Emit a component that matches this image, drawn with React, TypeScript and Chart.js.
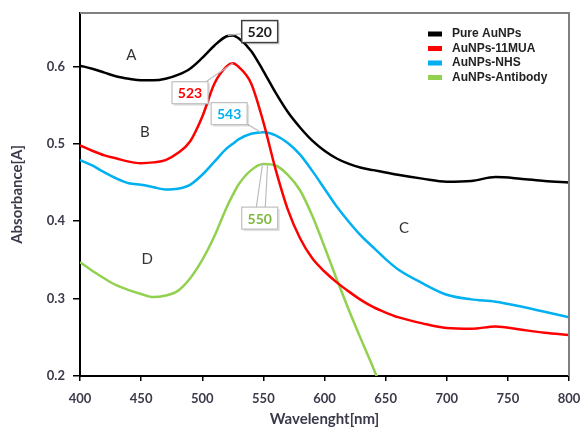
import React, { useEffect, useRef } from "react";
import { Chart, registerables } from "chart.js";

Chart.register(...registerables);

const wavelengths = [400, 410, 420, 430, 440, 450, 460, 470, 480, 490, 500, 510, 520, 525, 530, 540, 550, 560, 570, 580, 590, 600, 610, 620, 630, 640, 650, 660, 680, 700, 720, 740, 760, 780, 800];
const pureAuNPs = [0.601, 0.597, 0.592, 0.587, 0.584, 0.582, 0.582, 0.584, 0.589, 0.597, 0.611, 0.627, 0.639, 0.640, 0.636, 0.620, 0.594, 0.566, 0.541, 0.521, 0.504, 0.491, 0.481, 0.474, 0.469, 0.466, 0.463, 0.460, 0.455, 0.451, 0.452, 0.457, 0.455, 0.452, 0.450];
const auNPs11MUA = [0.498, 0.491, 0.485, 0.481, 0.477, 0.475, 0.476, 0.479, 0.488, 0.503, 0.535, 0.578, 0.600, 0.604, 0.599, 0.578, 0.528, 0.467, 0.415, 0.378, 0.352, 0.335, 0.321, 0.309, 0.298, 0.289, 0.282, 0.276, 0.268, 0.262, 0.261, 0.264, 0.260, 0.256, 0.253];
const auNPsNHS = [0.479, 0.472, 0.463, 0.455, 0.449, 0.447, 0.444, 0.441, 0.442, 0.447, 0.460, 0.477, 0.494, 0.500, 0.506, 0.513, 0.515, 0.511, 0.501, 0.486, 0.465, 0.442, 0.419, 0.399, 0.381, 0.366, 0.351, 0.338, 0.320, 0.305, 0.299, 0.296, 0.290, 0.283, 0.276];
const auNPsAntibody = [0.347, 0.336, 0.326, 0.317, 0.311, 0.306, 0.302, 0.304, 0.310, 0.326, 0.350, 0.381, 0.418, 0.434, 0.448, 0.466, 0.474, 0.472, 0.460, 0.440, 0.407, 0.367, 0.325, 0.285, 0.247, 0.210, 0.170, null, null, null, null, null, null, null, null];

const xTicks = [400, 450, 500, 550, 600, 650, 700, 750, 800];
const yTicks = [0.2, 0.3, 0.4, 0.5, 0.6];

const seriesNames = ["Pure AuNPs", "AuNPs-11MUA", "AuNPs-NHS", "AuNPs-Antibody"];
const seriesColors = ["#000000", "#ff0000", "#00b0f0", "#92d050"];
const seriesValues = [pureAuNPs, auNPs11MUA, auNPsNHS, auNPsAntibody];

const peakLabels = ["520", "523", "543", "550"];
const peakLabelColors = ["#1a1a1a", "#ff0000", "#00b0f0", "#7fb83e"];
const peakAnchorX = [521, 525, 548, 551];
const peakAnchorY = [0.640, 0.604, 0.515, 0.474];
const peakBoxX = [547, 490, 522, 547];
const peakBoxY = [0.645, 0.566, 0.539, 0.404];

const curveLetters = ["A", "B", "C", "D"];
const letterX = [442, 453, 665, 455];
const letterY = [0.614, 0.515, 0.391, 0.351];

const tickColor = "#3a3a4a";

const decorPlugin = {
  id: "decor",
  afterDatasetsDraw(chart: any) {
    const { ctx, chartArea, scales } = chart;
    const xs = scales.x;
    const ys = scales.y;
    ctx.save();
    ctx.strokeStyle = "#808080";
    ctx.lineWidth = 2;
    ctx.beginPath();
    ctx.moveTo(chartArea.left, chartArea.top);
    ctx.lineTo(chartArea.right, chartArea.top);
    ctx.lineTo(chartArea.right, chartArea.bottom);
    ctx.stroke();

    ctx.fillStyle = "#333333";
    ctx.font = "15px Lato";
    ctx.textAlign = "center";
    ctx.textBaseline = "middle";
    curveLetters.forEach((t, i) => {
      ctx.fillText(t, xs.getPixelForValue(letterX[i]), ys.getPixelForValue(letterY[i]));
    });

    peakLabels.forEach((t, i) => {
      const ax = xs.getPixelForValue(peakAnchorX[i]);
      const ay = ys.getPixelForValue(peakAnchorY[i]);
      const bx = xs.getPixelForValue(peakBoxX[i]);
      const by = ys.getPixelForValue(peakBoxY[i]);
      const w = 36;
      const h = 22;
      ctx.strokeStyle = "#bdbdbd";
      ctx.lineWidth = 1.2;
      if (i === 3) {
        ctx.beginPath();
        ctx.moveTo(ax - 2, ay);
        ctx.lineTo(bx - 5, by);
        ctx.moveTo(ax + 3, ay);
        ctx.lineTo(bx + 5, by);
        ctx.stroke();
      } else {
        ctx.beginPath();
        ctx.moveTo(ax, ay);
        ctx.lineTo(bx, by);
        ctx.stroke();
      }
      ctx.fillStyle = "rgba(0,0,0,0.12)";
      ctx.fillRect(bx - w / 2 + 2, by - h / 2 + 2, w, h);
      ctx.fillStyle = "#ffffff";
      ctx.fillRect(bx - w / 2, by - h / 2, w, h);
      ctx.strokeStyle = i === 0 ? "#404040" : "#bfbfbf";
      ctx.lineWidth = i === 0 ? 1.5 : 1.2;
      ctx.strokeRect(bx - w / 2, by - h / 2, w, h);
      ctx.fillStyle = peakLabelColors[i];
      ctx.font = "bold 14px Lato";
      ctx.textAlign = "center";
      ctx.textBaseline = "middle";
      ctx.fillText(t, bx, by + 1);
    });

    const lx = chartArea.right - 141;
    const ly = chartArea.top + 21;
    ctx.font = "bold 12px 'Liberation Sans'";
    ctx.textAlign = "left";
    ctx.textBaseline = "middle";
    seriesNames.forEach((n, i) => {
      const y = ly + i * 14.5;
      ctx.fillStyle = seriesColors[i];
      ctx.fillRect(lx, y - 2.5, 14, 5);
      ctx.fillStyle = "#222222";
      ctx.fillText(n, lx + 24, y);
    });
    ctx.restore();
  },
};

export default function App() {
  const ref = useRef<HTMLCanvasElement | null>(null);
  useEffect(() => {
    if (!ref.current) return;
    const chart = new Chart(ref.current, {
      type: "line",
      data: {
        datasets: seriesNames.map((name, i) => ({
          label: name,
          data: wavelengths.map((w, j) => ({ x: w, y: seriesValues[i][j] })),
          borderColor: seriesColors[i],
          backgroundColor: seriesColors[i],
          borderWidth: 2.5,
          pointRadius: 0,
          cubicInterpolationMode: "monotone",
          fill: false,
          spanGaps: false,
        })),
      },
      options: {
        responsive: false,
        animation: false,
        events: [],
        layout: { padding: { top: 13, right: 15, left: 0, bottom: 0 } },
        plugins: { legend: { display: false }, tooltip: { enabled: false } },
        scales: {
          x: {
            type: "linear",
            min: 400,
            max: 800,
            afterBuildTicks: (s: any) => {
              s.ticks = xTicks.map((v) => ({ value: v }));
            },
            afterFit: (s: any) => {
              s.height = 52;
              s.paddingLeft = 0;
              s.paddingRight = 0;
            },
            ticks: {
              color: tickColor,
              font: { family: "Lato", weight: "bold", size: 13 },
              padding: 10,
              maxRotation: 0,
            },
            grid: { drawOnChartArea: false, tickLength: 5, color: "#000", lineWidth: 1.5 },
            border: { color: "#000", width: 2 },
            title: {
              display: true,
              text: "Wavelenght[nm]",
              color: tickColor,
              font: { family: "Lato", weight: "bold", size: 15 },
              padding: { top: 0, bottom: 0 },
            },
          },
          y: {
            type: "linear",
            min: 0.2,
            max: 0.669,
            afterBuildTicks: (s: any) => {
              s.ticks = yTicks.map((v) => ({ value: v }));
            },
            afterFit: (s: any) => {
              s.width = 80;
              s.paddingTop = 0;
              s.paddingBottom = 0;
            },
            ticks: {
              color: tickColor,
              font: { family: "Lato", weight: "bold", size: 13 },
              padding: 8,
              callback: (v: any) => Number(v).toFixed(1),
            },
            grid: { drawOnChartArea: false, tickLength: 7, color: "#000", lineWidth: 1.5 },
            border: { color: "#000", width: 2 },
            title: {
              display: true,
              text: "Absorbance[A]",
              color: tickColor,
              font: { family: "Lato", weight: "bold", size: 15 },
              padding: { top: 8, bottom: 0 },
            },
          },
        },
      },
      plugins: [decorPlugin],
    } as any);
    return () => chart.destroy();
  }, []);
  return (
    <div style={{ position: "absolute", left: 0, top: 0, width: 584, height: 428, background: "#fff" }}>
      <canvas ref={ref} width={584} height={428} />
    </div>
  );
}
